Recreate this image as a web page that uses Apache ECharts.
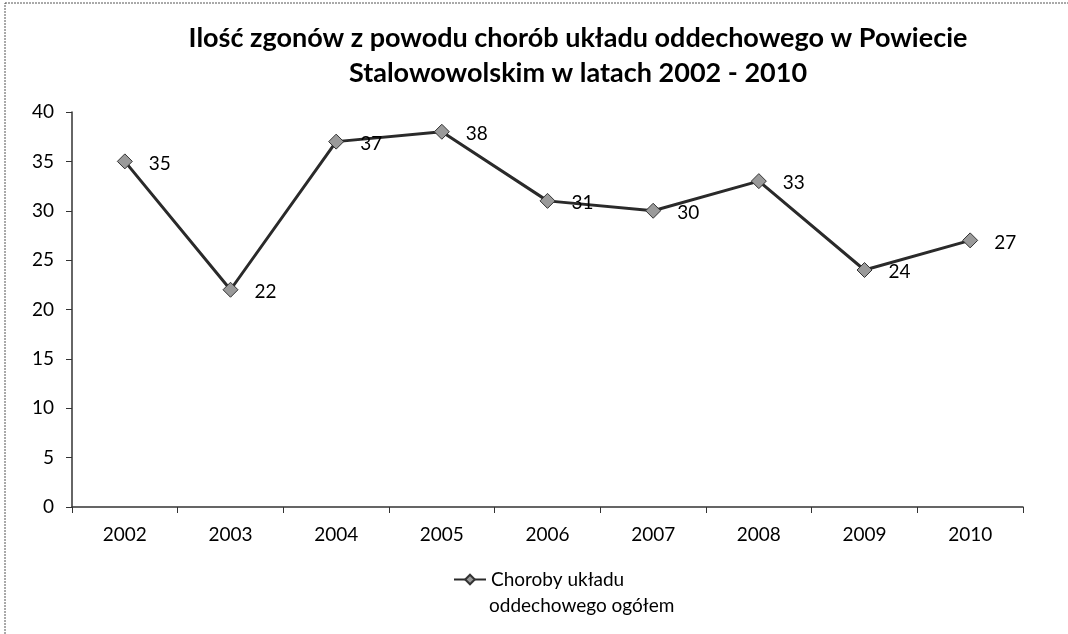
<!DOCTYPE html>
<html><head><meta charset="utf-8">
<script src="https://cdn.jsdelivr.net/npm/echarts@6/dist/echarts.min.js"></script>
<style>html,body{margin:0;padding:0;background:#fff}#c{width:1068px;height:634px}</style>
</head><body><div id="c"></div>
<script>
const categories = ['2002','2003','2004','2005','2006','2007','2008','2009','2010'];
const values = [35,22,37,38,31,30,33,24,27];
const seriesName = 'Choroby układu oddechowego ogółem';
const legendLine1 = 'Choroby układu';
const legendLine2 = 'oddechowego ogółem';
const titleText = 'Ilość zgonów z powodu chorób układu oddechowego w Powiecie\nStalowowolskim w latach 2002 - 2010';

const FONT = 'Lato, "Open Sans", sans-serif';
const chart = echarts.init(document.getElementById('c'), null, {renderer:'canvas'});
chart.setOption({
  backgroundColor:'#fff',
  animation:false,
  graphic:[
    {type:'rect', shape:{x:5,y:3,width:1200,height:800}, style:{fill:'none',stroke:'#555',lineWidth:1,lineDash:[2,1]}, silent:true},
    {type:'text', left:489, top:596, style:{text:legendLine2, font:'19px Lato, "Open Sans", sans-serif', fill:'#000'}, silent:true}
  ],
  title:{text:titleText, left:573, top:16, textAlign:'center',
    textStyle:{fontFamily:FONT,fontWeight:'bold',fontSize:27,color:'#000',lineHeight:35}},
  grid:{left:72,right:45,top:112,bottom:127,containLabel:false},
  legend:{data:[seriesName], left:448, top:565, itemWidth:32, itemHeight:12,
    formatter:()=> legendLine1,
    textStyle:{fontFamily:FONT,fontSize:19,color:'#000'}},
  xAxis:{type:'category',data:categories,boundaryGap:true,
    axisLine:{lineStyle:{color:'#333',width:1.5}},
    axisTick:{show:true,length:6,lineStyle:{color:'#333'}},
    axisLabel:{fontFamily:FONT,fontSize:19,color:'#000',margin:18},
    splitLine:{show:false}},
  yAxis:{type:'value',min:0,max:40,interval:5,
    axisLine:{show:true,lineStyle:{color:'#333',width:1.5}},
    axisTick:{show:true,length:6,lineStyle:{color:'#333'}},
    axisLabel:{fontFamily:FONT,fontSize:19,color:'#000',margin:18},
    splitLine:{show:false}},
  series:[{name:seriesName,type:'line',data:values,
    symbol:'diamond',symbolSize:15,
    lineStyle:{color:'#2a2a2a',width:3},
    itemStyle:{color:'#9a9a9a',borderColor:'#333',borderWidth:1},
    label:{show:true,position:'right',distance:16,fontFamily:FONT,fontSize:19,color:'#000',offset:[0,2]}
  }]
});
</script></body></html>
